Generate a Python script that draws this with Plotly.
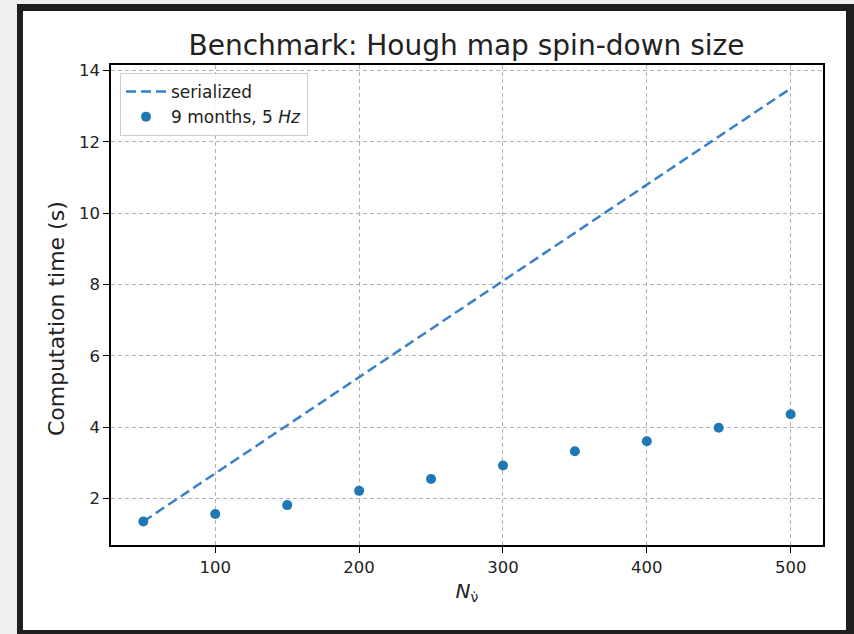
import plotly.graph_objects as go

# Benchmark data: spin-down grid size vs. computation time
n_spindown = [50, 100, 150, 200, 250, 300, 350, 400, 450, 500]
time_serialized = [1.35, 2.70, 4.05, 5.40, 6.75, 8.10, 9.45, 10.80, 12.15, 13.50]
time_9months_5hz = [1.35, 1.56, 1.81, 2.21, 2.54, 2.92, 3.32, 3.60, 3.98, 4.36]

x_ticks = [100, 200, 300, 400, 500]
y_ticks = [2, 4, 6, 8, 10, 12, 14]

W, H = 854, 634
ML, MR, MT, MB = 111, 31, 65, 89
PW, PH = W - ML - MR, H - MT - MB


def px_x(p):
    return (p - ML) / PW


def px_y(p):
    return (H - MB - p) / PH


FONT = "DejaVu Sans"
INK = "#222222"

fig = go.Figure()

fig.add_trace(go.Scatter(
    x=n_spindown, y=time_serialized, mode="lines", name="serialized",
    line=dict(color="#3a80c6", width=2.5, dash="10px,5px"),
))
fig.add_trace(go.Scatter(
    x=n_spindown, y=time_9months_5hz, mode="markers",
    name="9 months, 5 <i>Hz</i>",
    marker=dict(color="#1f77b4", size=10),
))

# dark picture frame around the white canvas
fig.add_shape(type="rect", xref="paper", yref="paper",
              x0=px_x(17), x1=px_x(880), y0=px_y(660), y1=px_y(4),
              fillcolor="#1e1e1e", line=dict(width=0), layer="below")
fig.add_shape(type="rect", xref="paper", yref="paper",
              x0=px_x(23), x1=px_x(846), y0=px_y(630), y1=px_y(11),
              fillcolor="white", line=dict(width=0), layer="below")

axis_common = dict(
    showline=True, linecolor="black", linewidth=1.5, mirror=True,
    ticks="outside", ticklen=6, tickwidth=1.2, tickcolor="black",
    showgrid=True, gridcolor="#b0b0b0", griddash="4px,3px", gridwidth=1,
    zeroline=False,
    tickfont=dict(family=FONT, size=16.5, color=INK),
)

fig.update_xaxes(
    range=[27.5, 522.5], tickvals=x_ticks, **axis_common,
    title=dict(text="<i>N</i><sub>ν̇</sub>", standoff=8,
               font=dict(family=FONT, size=20, color=INK)),
)
fig.update_yaxes(range=[0.69, 14.16], tickvals=y_ticks, **axis_common)

# y-axis label
fig.add_annotation(
    text="Computation time (s)", textangle=-90, showarrow=False,
    xref="paper", yref="paper", x=px_x(56), y=px_y(319),
    xanchor="center", yanchor="middle",
    font=dict(family=FONT, size=22, color=INK),
)

fig.update_layout(
    width=W, height=H,
    margin=dict(l=ML, r=MR, t=MT, b=MB),
    paper_bgcolor="#efefef",
    plot_bgcolor="rgba(0,0,0,0)",
    title=dict(text="Benchmark: Hough map spin-down size",
               x=px_x(466.5), xref="paper", xanchor="center",
               y=1 - 45 / H, yref="container", yanchor="middle",
               font=dict(family=FONT, size=28, color=INK)),
    showlegend=True,
    legend=dict(x=px_x(120), y=px_y(73), xanchor="left", yanchor="top",
                bgcolor="rgba(255,255,255,0.85)", bordercolor="#cccccc",
                borderwidth=1, font=dict(family=FONT, size=17, color=INK),
                itemwidth=40),
)

fig.write_html("out.html")
